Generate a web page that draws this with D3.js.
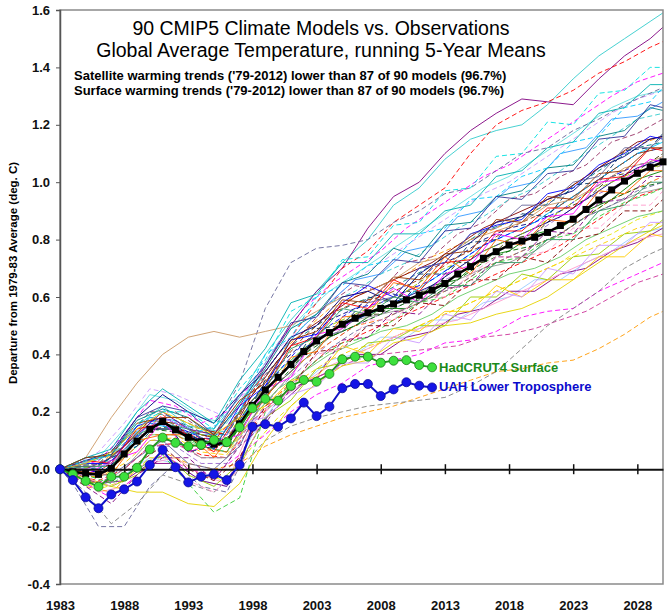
<!DOCTYPE html>
<html>
<head>
<meta charset="utf-8">
<script src="https://cdn.jsdelivr.net/npm/d3@7"></script>
<style>
  body { margin: 0; background: #fff; }
  text { font-family: Arial, "Liberation Sans", sans-serif; }
</style>
</head>
<body>
<svg id="chart" width="670" height="616"></svg>
<script>
// ---- data ----
var titleLines = ["90 CMIP5 Climate Models vs. Observations",
                  "Global Average Temperature, running 5-Year Means"];
var noteLines = ["Satellite warming trends ('79-2012) lower than 87 of 90 models (96.7%)",
                 "Surface warming trends ('79-2012) lower than 87 of 90 models (96.7%)"];
var yTitle = "Departure from 1979-83 Average (deg. C)";
var xTicks = [1983, 1988, 1993, 1998, 2003, 2008, 2013, 2018, 2023, 2028];
var yTicks = [-0.4, -0.2, 0.0, 0.2, 0.4, 0.6, 0.8, 1.0, 1.2, 1.4, 1.6];

var meanYears = d3.range(1983, 2031);
var meanValues = [0, -0.009, -0.015, -0.018, 0.003, 0.053, 0.098, 0.139, 0.166, 0.137,
  0.111, 0.096, 0.087, 0.092, 0.158, 0.222, 0.276, 0.320, 0.365, 0.410,
  0.447, 0.476, 0.505, 0.526, 0.545, 0.560, 0.576, 0.590, 0.606, 0.624,
  0.647, 0.680, 0.706, 0.735, 0.758, 0.781, 0.795, 0.808, 0.825, 0.849,
  0.871, 0.905, 0.938, 0.973, 1.004, 1.031, 1.052, 1.071];

var obsYears = d3.range(1983, 2013);
var hadcrut4 = [0, -0.018, -0.041, -0.061, -0.026, -0.026, 0.005, 0.069, 0.110, 0.092,
  0.080, 0.085, 0.102, 0.094, 0.146, 0.212, 0.245, 0.239, 0.290, 0.311,
  0.305, 0.332, 0.383, 0.392, 0.392, 0.371, 0.378, 0.380, 0.363, 0.355];
var uah = [0, -0.038, -0.098, -0.136, -0.088, -0.070, -0.043, 0.015, 0.067, 0.007,
  -0.046, -0.026, -0.018, -0.038, 0.015, 0.148, 0.157, 0.148, 0.177, 0.232,
  0.185, 0.218, 0.282, 0.297, 0.297, 0.255, 0.278, 0.303, 0.291, 0.285];
var seriesNames = ["HadCRUT4 Surface", "UAH Lower Troposphere"];

// model runs, read roughly every second year (two groups on odd and even years)
var modelYearsOdd = [1983, 1985, 1987, 1989, 1991, 1993, 1995, 1997, 1999, 2001, 2003, 2005,
  2007, 2009, 2011, 2013, 2015, 2017, 2019, 2021, 2023, 2025, 2027, 2029, 2030];
var modelYearsEven = [1983, 1984, 1986, 1988, 1990, 1992, 1994, 1996, 1998, 2000, 2002, 2004,
  2006, 2008, 2010, 2012, 2014, 2016, 2018, 2020, 2022, 2024, 2026, 2028, 2030];

var modelsOdd = [
  [0,.02,.05,.15,.22,.15,.14,.25,.40,.52,.62,.72,.80,.92,.98,1.08,1.15,1.18,1.20,1.27,1.36,1.44,1.50,1.56,1.59],
  [0,.00,.04,.12,.20,.14,.12,.22,.36,.50,.62,.70,.84,.95,1.00,1.10,1.18,1.24,1.29,1.28,1.27,1.36,1.44,1.50,1.54],
  [0,-.03,.02,.10,.19,.12,.10,.20,.34,.46,.58,.70,.76,.86,.92,.98,1.10,1.20,1.25,1.28,1.32,1.38,1.42,1.47,1.49],
  [0,.01,.03,.11,.18,.12,.14,.30,.56,.72,.77,.78,.80,.86,.90,.96,.98,1.04,1.10,1.12,1.18,1.22,1.27,1.31,1.33],
  [0,.04,.18,.30,.40,.46,.48,.46,.48,.50,.55,.60,.62,.66,.72,.74,.80,.83,.86,.92,.94,.99,1.05,1.07,1.09],
  [0,-.05,-.10,-.02,.05,.00,-.02,.05,.12,.20,.26,.30,.36,.38,.40,.44,.45,.48,.53,.55,.56,.62,.66,.70,.72],
  [0,-.06,-.08,.00,.06,.02,.00,.02,.08,.12,.15,.18,.20,.22,.25,.28,.31,.34,.35,.37,.38,.42,.47,.53,.55],
  [0,-.08,-.19,-.12,-.02,-.05,-.08,.00,.10,.15,.18,.20,.22,.23,.24,.25,.29,.34,.42,.50,.56,.62,.70,.75,.77],
  [0,-.03,-.06,-.08,-.08,-.12,-.13,-.05,.10,.22,.30,.36,.38,.44,.46,.50,.51,.54,.56,.60,.66,.72,.78,.83,.85],
  [0,-.02,-.05,.00,.05,-.05,-.15,-.10,.20,.30,.38,.44,.46,.52,.58,.60,.66,.72,.74,.80,.82,.88,.93,.96,.98],
  [0,.03,.06,.18,.26,.20,.16,.26,.34,.46,.50,.60,.62,.58,.68,.74,.79,.86,.88,.94,.97,1.05,1.09,1.15,1.16],
  [0,-.02,.03,.06,.17,.06,.09,.12,.28,.32,.47,.49,.56,.63,.58,.68,.71,.82,.80,.88,.89,1.00,1.01,1.08,1.07],
  [0,.04,.05,.17,.21,.18,.11,.23,.35,.49,.54,.65,.68,.77,.74,.85,.86,.95,.97,1.05,1.06,1.16,1.18,1.26,1.25],
  [0,-.05,-.04,.02,.08,.00,-.04,.04,.22,.28,.41,.42,.50,.50,.58,.57,.66,.66,.74,.72,.80,.82,.90,.90,.94],
  [0,.02,.02,.15,.18,.14,.07,.22,.29,.45,.47,.58,.64,.60,.70,.72,.82,.85,.87,.96,.98,1.06,1.10,1.16,1.15],
  [0,-.01,.04,.08,.21,.12,.15,.20,.40,.46,.60,.64,.71,.73,.82,.84,.94,.95,1.02,1.05,1.14,1.16,1.26,1.28,1.33],
  [0,-.04,-.06,-.02,.06,-.02,-.06,.02,.18,.24,.35,.37,.44,.45,.50,.50,.60,.60,.68,.66,.74,.75,.82,.83,.87],
  [0,.03,.02,.14,.16,.12,.06,.20,.28,.43,.46,.58,.56,.66,.62,.72,.73,.83,.83,.91,.91,1.01,1.02,1.12,1.11],
  [0,-.06,-.12,-.02,.04,.04,-.04,.08,.16,.28,.32,.45,.46,.55,.54,.63,.64,.74,.74,.83,.82,.93,.94,1.02,1.02],
  [0,.02,.06,.14,.20,.16,.12,.18,.22,.31,.32,.43,.40,.49,.48,.55,.55,.64,.60,.66,.66,.74,.74,.82,.81],
  [0,.04,.07,.20,.28,.22,.16,.31,.42,.58,.61,.72,.72,.82,.82,.90,.92,1.02,1.04,1.12,1.14,1.24,1.26,1.34,1.34],
  [0,-.01,.04,.08,.18,.06,.08,.14,.31,.36,.49,.50,.60,.58,.68,.68,.79,.80,.89,.88,.99,1.00,1.11,1.12,1.17],
  [0,-.01,-.02,.10,.12,.12,.04,.16,.24,.39,.41,.53,.54,.65,.63,.74,.68,.80,.78,.87,.86,.97,.96,1.04,1.04],
  [0,.03,.05,.18,.22,.20,.12,.26,.36,.51,.53,.65,.64,.73,.72,.83,.84,.95,.94,1.03,1.04,1.15,1.16,1.27,1.26],
  [0,-.03,-.06,.00,.06,-.04,-.08,.00,.20,.28,.40,.42,.52,.52,.60,.60,.68,.74,.74,.76,.84,.84,.92,.92,.97],
  [0,.00,.02,.12,.18,.14,.08,.16,.18,.26,.29,.37,.37,.46,.44,.54,.52,.62,.60,.70,.68,.78,.78,.86,.86],
  [0,.04,.05,.16,.18,.18,.12,.24,.30,.45,.48,.59,.58,.67,.66,.75,.76,.87,.86,.95,.94,1.03,1.04,1.12,1.12],
  [0,-.02,-.02,.04,.10,.02,.00,.08,.26,.34,.46,.48,.58,.60,.70,.72,.82,.84,.92,.92,1.00,1.02,1.12,1.12,1.16],
  [0,.03,.05,.16,.20,.20,.14,.28,.38,.55,.60,.73,.74,.85,.86,.97,.98,1.09,1.10,1.21,1.20,1.31,1.32,1.40,1.40],
  [0,.01,.01,.12,.16,.14,.08,.20,.28,.42,.46,.56,.54,.60,.58,.64,.64,.72,.72,.80,.80,.90,.92,1.00,1.00]
];
var modelsEven = [
  [0,-.01,-.03,.06,.16,.14,.12,.10,.24,.36,.44,.52,.56,.62,.60,.70,.74,.80,.84,.86,.92,.98,1.04,1.10,1.12],
  [0,.01,.02,.08,.17,.16,.14,.12,.28,.40,.48,.56,.60,.64,.68,.74,.78,.82,.86,.90,.96,1.02,1.08,1.13,1.16],
  [0,-.01,-.06,-.02,.04,.02,-.04,-.06,.12,.24,.30,.38,.40,.46,.46,.52,.52,.58,.60,.66,.66,.72,.76,.82,.84],
  [0,.02,.03,.10,.20,.20,.14,.12,.28,.38,.48,.58,.64,.62,.72,.74,.82,.86,.94,.96,1.02,1.06,1.14,1.17,1.22],
  [0,.00,.03,.12,.24,.22,.16,.20,.30,.44,.56,.64,.70,.76,.84,.90,.96,1.02,1.06,1.12,1.18,1.24,1.30,1.35,1.38],
  [0,-.02,-.07,-.04,.04,.04,-.02,-.04,.08,.18,.26,.34,.40,.44,.48,.52,.56,.60,.64,.68,.72,.78,.82,.87,.90],
  [0,.00,.00,.06,.14,.14,.08,.06,.20,.30,.38,.46,.50,.56,.56,.64,.66,.74,.76,.82,.84,.90,.94,1.01,1.04],
  [0,-.02,-.05,.00,.08,.08,.02,.02,.16,.28,.36,.44,.50,.54,.58,.64,.68,.74,.78,.82,.88,.94,.98,1.03,1.06],
  [0,.00,-.01,.06,.14,.15,.10,.08,.22,.32,.40,.48,.54,.54,.62,.62,.72,.72,.80,.82,.90,.94,1.02,1.04,1.10],
  [0,.01,.06,.16,.28,.26,.22,.18,.30,.42,.50,.58,.66,.72,.78,.84,.90,.96,1.00,1.06,1.12,1.18,1.24,1.29,1.32],
  [0,-.01,.00,.06,.16,.14,.10,.08,.24,.34,.42,.48,.52,.56,.60,.66,.72,.78,.82,.86,.92,.98,1.04,1.10,1.14],
  [0,-.02,-.04,.00,.08,.09,.05,.04,.15,.26,.34,.42,.46,.50,.54,.58,.62,.66,.70,.74,.78,.84,.90,.95,.98],
  [0,-.01,-.05,-.04,.02,.02,-.04,-.06,.13,.22,.30,.34,.40,.40,.46,.48,.54,.56,.62,.62,.68,.70,.76,.79,.84],
  [0,-.02,-.05,.00,.08,.09,.04,.04,.17,.25,.30,.34,.38,.40,.41,.42,.43,.46,.47,.49,.52,.55,.60,.65,.68],
  [0,.01,.00,.09,.18,.17,.13,.12,.27,.38,.47,.53,.58,.61,.66,.71,.77,.83,.86,.90,.95,1.01,1.07,1.12,1.14],
  [0,-.02,-.06,.00,.10,.10,.04,.04,.18,.28,.38,.46,.52,.54,.56,.60,.66,.70,.72,.76,.82,.88,.92,.96,.98],
  [0,.01,.02,.10,.20,.18,.14,.12,.26,.36,.46,.54,.58,.60,.64,.68,.74,.78,.84,.88,.92,.98,1.04,1.10,1.12],
  [0,-.01,-.02,.04,.12,.12,.08,.06,.18,.28,.34,.40,.44,.48,.50,.54,.60,.64,.68,.70,.74,.80,.84,.88,.90],
  [0,.00,.01,.08,.18,.17,.12,.12,.28,.40,.50,.58,.66,.68,.76,.78,.88,.90,.98,1.00,1.10,1.12,1.22,1.23,1.28],
  [0,-.01,-.03,.04,.12,.12,.07,.06,.20,.30,.38,.44,.50,.52,.56,.60,.64,.70,.74,.78,.82,.88,.94,.98,1.02],
  [0,.00,-.02,.05,.14,.13,.09,.08,.21,.30,.40,.46,.50,.54,.58,.60,.66,.72,.76,.78,.82,.88,.94,.98,1.00],
  [0,.00,-.01,.07,.16,.15,.11,.10,.24,.34,.44,.50,.56,.58,.62,.66,.72,.78,.82,.86,.90,.96,1.02,1.06,1.08],
  [0,-.01,-.03,.02,.10,.11,.06,.05,.18,.26,.32,.38,.42,.44,.48,.52,.56,.60,.64,.68,.72,.76,.80,.84,.86],
  [0,.01,.01,.08,.17,.16,.12,.10,.26,.38,.48,.54,.60,.64,.68,.72,.78,.84,.88,.92,.96,1.02,1.08,1.14,1.16],
  [0,.01,.04,.14,.26,.24,.18,.16,.30,.44,.54,.62,.68,.74,.80,.86,.92,.98,1.02,1.08,1.14,1.20,1.26,1.30,1.32],
  [0,-.01,-.08,-.06,.02,.04,-.02,-.05,.16,.24,.30,.36,.40,.44,.48,.50,.52,.56,.60,.64,.68,.72,.76,.80,.82],
  [0,.00,-.02,.05,.14,.14,.10,.09,.22,.32,.42,.48,.52,.56,.60,.64,.70,.76,.80,.84,.88,.94,1.00,1.05,1.08],
  [0,-.05,-.20,-.20,-.06,.02,-.06,-.08,.10,.24,.34,.42,.48,.52,.56,.60,.64,.70,.74,.78,.82,.88,.92,.97,1.00],
  [0,.00,.01,.08,.17,.16,.12,.11,.24,.34,.42,.50,.54,.58,.62,.68,.72,.76,.80,.84,.90,.96,1.00,1.04,1.06],
  [0,.01,.02,.10,.20,.18,.14,.13,.28,.40,.50,.58,.62,.68,.72,.78,.84,.88,.94,.98,1.04,1.10,1.16,1.22,1.24]
];
var colorsOdd = ["#33CCCC","#800080","#FF0000","#666699","#CC9966","#FF00FF","#FF9900","#808080",
  "#E6D200","#33CC33","#000080","#FF00FF","#008080","#800000","#0000FF","#00CCFF","#99CC00","#FF0000",
  "#800080","#FFCC00","#00B0B0","#003366","#FF6600","#333399","#FF99CC","#CC99FF","#993300","#666699",
  "#00E0E0","#339966"];
var dashedOdd = [0,0,1,1,0,1,1,1,0,1, 0,0,0,1,0,1,0,0,1,0, 0,1,0,0,1,0,0,0,1,0];
var colorsEven = ["#000080","#FF9900","#99CCFF","#993366","#FF00FF","#E6E600","#008000","#9966CC",
  "#333300","#CC99FF","#00CCFF","#FF0000","#800080","#CC3399","#008080","#969696","#993300","#66CC66",
  "#3399FF","#FF6600","#006600","#0000FF","#FFCC00","#800000","#66E0E0","#FF99CC","#000080","#666699",
  "#99CC00","#33CCCC"];
var dashedEven = [1,1,0,1,1,1,0,1,1,1, 0,1,0,1,1,0,1,0,0,1, 1,1,1,0,0,0,0,1,1,1];

// ---- layout ----
var svg = d3.select("#chart");
var plotLeft = 60, plotRight = 663, plotTop = 10, plotBottom = 584;

var x = d3.scaleLinear().domain([1983, 2030]).range([plotLeft, plotRight]);
var y = d3.scaleLinear().domain([-0.4, 1.6]).range([plotBottom, plotTop]);

svg.append("rect").attr("width", 670).attr("height", 616).attr("fill", "#fff");

svg.append("clipPath").attr("id", "plotclip")
  .append("rect").attr("x", plotLeft).attr("y", plotTop)
  .attr("width", plotRight - plotLeft).attr("height", plotBottom - plotTop);

var spaghetti = svg.append("g").attr("clip-path", "url(#plotclip)");

function drawModels(runs, years, colors, dashed) {
  var line = d3.line()
    .x(function(d, i){ return x(years[i]); })
    .y(function(d){ return y(d); });
  spaghetti.append("g")
    .selectAll("path").data(runs).enter()
    .append("path")
    .attr("d", line)
    .attr("fill", "none")
    .attr("stroke", function(d, i){ return colors[i]; })
    .attr("stroke-width", 1)
    .attr("stroke-opacity", 0.9)
    .attr("stroke-dasharray", function(d, i){ return dashed[i] ? "5,3" : null; });
}
drawModels(modelsEven, modelYearsEven, colorsEven, dashedEven);
drawModels(modelsOdd, modelYearsOdd, colorsOdd, dashedOdd);

// frame
svg.append("rect")
  .attr("x", plotLeft).attr("y", plotTop)
  .attr("width", plotRight - plotLeft).attr("height", plotBottom - plotTop)
  .attr("fill", "none").attr("stroke", "#8a8a8a").attr("stroke-width", 1.5);

// y axis
var yAxis = svg.append("g")
  .attr("transform", "translate(" + plotLeft + ",0)")
  .call(d3.axisLeft(y).tickValues(yTicks).tickSize(4).tickPadding(6)
    .tickFormat(function(d){ return d.toFixed(1); }));
yAxis.select(".domain").attr("stroke", "#555").attr("stroke-width", 1.5);
yAxis.selectAll("line").attr("stroke", "#555");
yAxis.selectAll("text").attr("font-size", 13).attr("font-weight", "bold")
  .attr("font-family", "Arial, 'Liberation Sans', sans-serif").attr("fill", "#111");

// zero line with crossing ticks
var zeroAxis = svg.append("g")
  .attr("transform", "translate(0," + y(0) + ")")
  .call(d3.axisBottom(x).tickValues(xTicks).tickSize(5).tickSizeOuter(0).tickFormat(""));
zeroAxis.select(".domain").attr("stroke", "#111").attr("stroke-width", 2);
zeroAxis.selectAll(".tick line").attr("y1", -5).attr("stroke", "#111").attr("stroke-width", 1.5);

// x tick labels under the frame
var xLabels = svg.append("g")
  .attr("transform", "translate(0," + plotBottom + ")")
  .call(d3.axisBottom(x).tickValues(xTicks).tickSize(0).tickPadding(17).tickFormat(d3.format("d")));
xLabels.select(".domain").remove();
xLabels.selectAll("text").attr("font-size", 13).attr("font-weight", "bold")
  .attr("font-family", "Arial, 'Liberation Sans', sans-serif").attr("fill", "#111");

// multi-model mean
var meanLine = d3.line()
  .x(function(d, i){ return x(meanYears[i]); })
  .y(function(d){ return y(d); });
svg.append("path").datum(meanValues)
  .attr("d", meanLine).attr("fill", "none")
  .attr("stroke", "#000").attr("stroke-width", 2.5);
svg.append("g").selectAll("rect").data(meanValues).enter()
  .append("rect")
  .attr("x", function(d, i){ return x(meanYears[i]) - 3.5; })
  .attr("y", function(d){ return y(d) - 3.5; })
  .attr("width", 7).attr("height", 7)
  .attr("fill", "#000");

// observations
var obsLine = d3.line()
  .x(function(d, i){ return x(obsYears[i]); })
  .y(function(d){ return y(d); });

function drawObs(values, lineColor, fillColor, strokeColor, width) {
  svg.append("path").datum(values)
    .attr("d", obsLine).attr("fill", "none")
    .attr("stroke", lineColor).attr("stroke-width", width);
  svg.append("g").selectAll("circle").data(values).enter()
    .append("circle")
    .attr("cx", function(d, i){ return x(obsYears[i]); })
    .attr("cy", function(d){ return y(d); })
    .attr("r", 4.5)
    .attr("fill", fillColor)
    .attr("stroke", strokeColor).attr("stroke-width", 0.8);
}
drawObs(hadcrut4, "#1f9a1f", "#3de03d", "#1a7a1a", 1.8);
drawObs(uah, "#1010c8", "#1515e6", "#0a0a9a", 2);

var lastX = x(obsYears[obsYears.length - 1]) + 7;
svg.append("text")
  .attr("x", lastX).attr("y", y(hadcrut4[hadcrut4.length - 1]) + 5)
  .attr("font-size", 13).attr("font-weight", "bold").attr("fill", "#1a8a1a")
  .text(seriesNames[0]);
svg.append("text")
  .attr("x", lastX).attr("y", y(uah[uah.length - 1]) + 4)
  .attr("font-size", 13).attr("font-weight", "bold").attr("fill", "#0a0acc")
  .text(seriesNames[1]);

// titles
svg.selectAll(".title").data(titleLines).enter()
  .append("text").attr("class", "title")
  .attr("x", 321).attr("y", function(d, i){ return 35 + i * 22; })
  .attr("text-anchor", "middle").attr("font-size", 19.5).attr("fill", "#000")
  .text(function(d){ return d; });

svg.selectAll(".note").data(noteLines).enter()
  .append("text").attr("class", "note")
  .attr("x", 74).attr("y", function(d, i){ return 80 + i * 14.5; })
  .attr("font-size", 13).attr("font-weight", "bold").attr("fill", "#000")
  .text(function(d){ return d; });

svg.append("text")
  .attr("transform", "translate(17,273) rotate(-90)")
  .attr("text-anchor", "middle")
  .attr("font-size", 11.5).attr("font-weight", "bold").attr("fill", "#000")
  .text(yTitle);
</script>
</body>
</html>
